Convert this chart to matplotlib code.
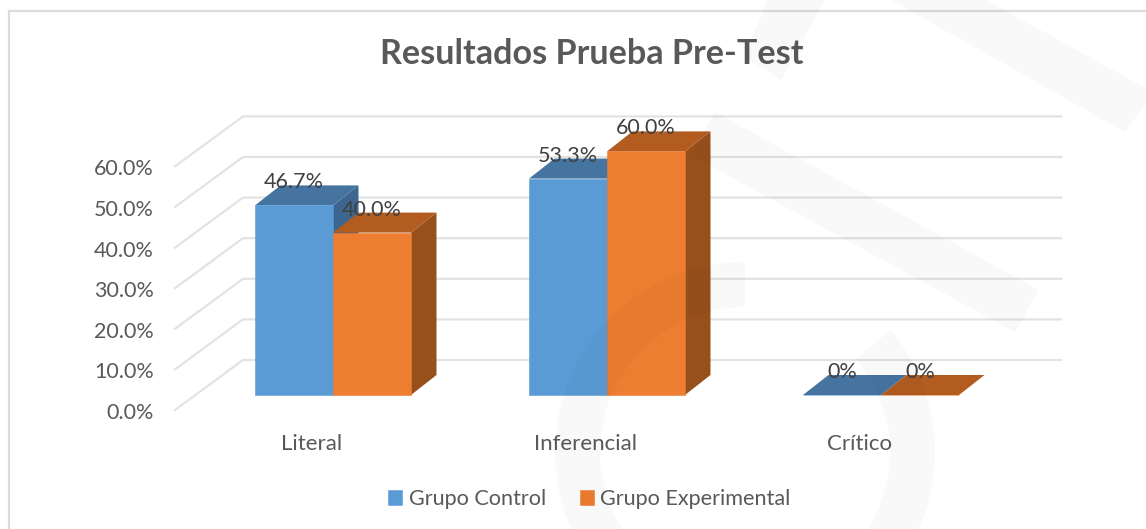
import matplotlib
matplotlib.use("Agg")
import matplotlib.pyplot as plt
from matplotlib.patches import Polygon, Wedge

plt.rcParams['font.family'] = ['Lato', 'DejaVu Sans']

# Datos
categorias = ["Literal", "Inferencial", "Crítico"]
grupo_control = [46.7, 53.3, 0]
grupo_experimental = [40.0, 60.0, 0]
etiquetas_control = ["46.7%", "53.3%", "0%"]
etiquetas_experimental = ["40.0%", "60.0%", "0%"]
ticks_y = [0, 10, 20, 30, 40, 50, 60]
etiquetas_y = ["0.0%", "10.0%", "20.0%", "30.0%", "40.0%", "50.0%", "60.0%"]

W, H = 1146, 529
PX_X = 274.0   # pixeles por categoria
PX_Y = 4.06    # pixeles por punto porcentual
X0, Y0 = 333, 395  # pixel de la categoria 0, valor 0

GRIS = "#595959"
ANCHO = 78 / PX_X
DX, DY = 25.5 / PX_X, 20 / PX_Y  # profundidad de las barras

fig = plt.figure(figsize=(W / 100, H / 100), dpi=100, facecolor="white")

# Eje principal, ocupa toda la figura: x en categorias, y en porcentaje
ax = fig.add_axes([0, 0, 1, 1])
ax.set_xlim(-X0 / PX_X, (W - X0) / PX_X)
ax.set_ylim(-(H - Y0) / PX_Y, Y0 / PX_Y)
ax.axis("off")

# Paredes: lineas de la cuadricula
izq_frente, izq_fondo = (175 - X0) / PX_X, (243 - X0) / PX_X
derecha = (1061 - X0) / PX_X
y_frente, y_fondo = -15 / PX_Y, 35 / PX_Y
for t in ticks_y:
    ax.plot([izq_frente, izq_fondo, derecha], [t + y_frente, t + y_fondo, t + y_fondo],
            color="#e3e3e3", lw=1.6, zorder=1, solid_joinstyle="miter")


def barra(x, v, frente, lado, arriba, z):
    # cara lateral, cara superior y frente de una barra
    ax.fill([x + ANCHO, x + ANCHO + DX, x + ANCHO + DX, x + ANCHO],
            [0, DY, v + DY, v], color=lado, lw=0, zorder=z)
    ax.fill([x, x + DX, x + ANCHO + DX, x + ANCHO],
            [v, v + DY, v + DY, v], color=arriba, lw=0, zorder=z)
    return ax.bar(x, v, ANCHO, align="edge", color=frente, edgecolor=frente, lw=0.4, zorder=z)


for i in range(len(categorias)):
    b1 = barra(i - ANCHO, grupo_control[i], "#5b9bd5", "#3c6690", "#4674a1", 3)
    b2 = barra(i, grupo_experimental[i], "#ed7d31", "#97501c", "#b35c20", 4)
    ax.text(i - ANCHO / 2, grupo_control[i] + 23 / PX_Y, etiquetas_control[i], ha="center", va="center",
            fontsize=15.5, color="#404040", zorder=6)
    ax.text(i + ANCHO / 2, grupo_experimental[i] + 23 / PX_Y, etiquetas_experimental[i], ha="center", va="center",
            fontsize=15.5, color="#404040", zorder=6)
    ax.text(i - 21 / PX_X, -49 / PX_Y, categorias[i], ha="center", va="center", fontsize=16, color=GRIS)

# Etiquetas del eje y, alineadas con el extremo frontal de cada linea
for t, lab in zip(ticks_y, etiquetas_y):
    ax.text((154 - X0) / PX_X, t + y_frente - 3 / PX_Y, lab, ha="right", va="center", fontsize=15.5, color=GRIS)

# Titulo
fig.text(592 / W, 1 - 54 / H, "Resultados Prueba Pre-Test", ha="center", va="center",
         fontsize=24.6, fontweight="bold", color=GRIS)

# Leyenda
leg = ax.legend([b1, b2], ["Grupo Control", "Grupo Experimental"], ncol=2, frameon=False,
                loc="center", bbox_to_anchor=(589.5 / W, 1 - 499 / H), bbox_transform=fig.transFigure,
                fontsize=15.6, labelcolor=GRIS, handlelength=0.65, handleheight=0.65,
                handletextpad=0.3, columnspacing=1.55)

# Capa en pixeles: marco del grafico y marca de agua
capa = fig.add_axes([0, 0, 1, 1], zorder=5)
capa.set_xlim(0, W)
capa.set_ylim(H, 0)
capa.axis("off")
capa.plot([9, 9], [H, 11], color="#dcdcdc", lw=1.6, zorder=1)
capa.plot([9, W], [11, 11], color="#dcdcdc", lw=1.6, zorder=1)

agua = dict(facecolor="black", edgecolor="none", alpha=0.022)
capa.add_patch(Polygon([(891, 0), (986, 0), (1146, 88), (1146, 103), (1125, 132)], **agua))
capa.add_patch(Polygon([(767, 0), (825, 0), (781, 80), (745, 57)], **agua))
capa.add_patch(Polygon([(715, 112), (1039, 290), (1015, 332), (690, 155)], **agua))
capa.add_patch(Wedge((745, 452), 190, -40, 270, width=45, **agua))

fig.savefig("out.png", dpi=100, facecolor="white")
